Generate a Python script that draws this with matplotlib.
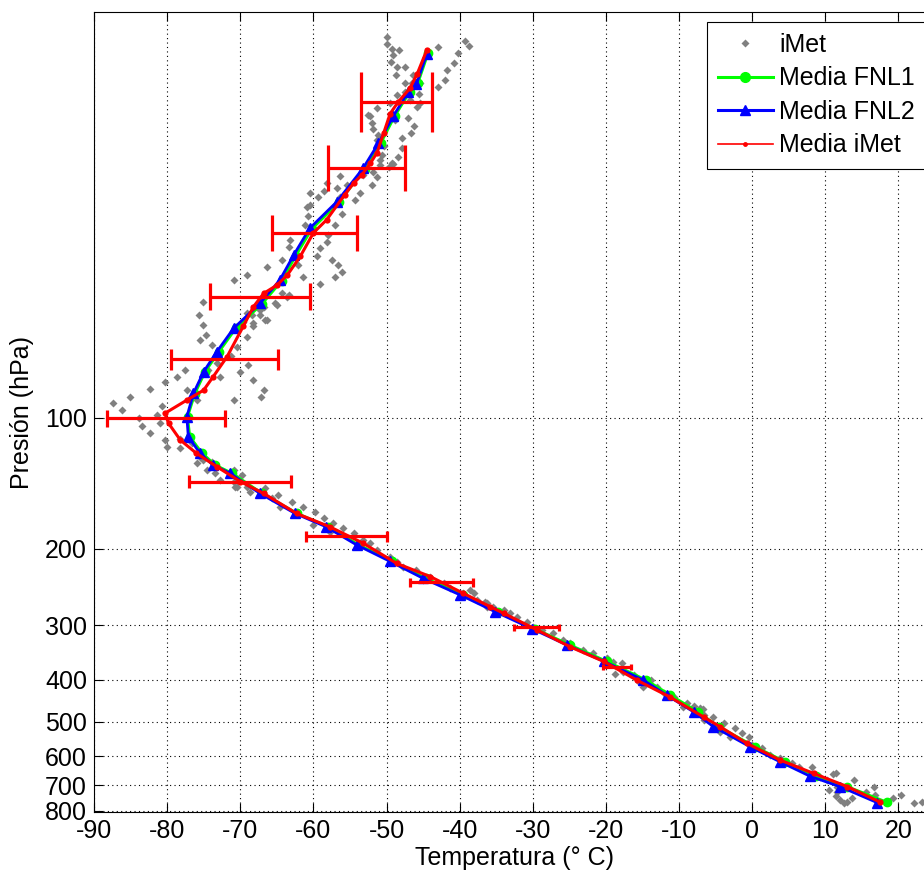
import numpy as np
import matplotlib
matplotlib.use('Agg')
from matplotlib import pyplot as plt
from matplotlib.lines import Line2D

plt.rcParams['font.family'] = ['Liberation Sans', 'DejaVu Sans']
plt.rcParams['axes.unicode_minus'] = False

# iMet soundings (grey diamonds): temperature (C) and pressure (hPa)
imet_t = [-50.0, -49.9, -49.3, -48.3, -49.1, -49.4, -48.6, -47.5, -48.7, -46.4, -47.5, -46.5, -45.4, -47.5,
          -48.6, -49.5, -46.8, -45.8, -51.3, -52.3, -52.0, -48.8, -47.1, -51.8, -51.1, -46.3, -46.7, -50.4,
          -47.9, -48.4, -50.9, -42.9, -39.25, -38.7, -40.2, -40.75, -41.7, -42.0, -42.9, -56.35, -49.7, -51.8,
          -45.6, -45.4, -49.3, -47.9, -50.6, -52.5, -51.3,
          -58.2, -59.3, -60.45, -60.7, -61.1, -56.8, -56.35, -55.4, -53.6, -54.3, -52.0, -53.2, -50.9, -49.1,
          -51.3, -56.1, -57.0, -57.95, -58.2, -59.1, -59.5, -57.5, -56.6, -56.1, -57.0, -62.05, -63.2,
          -63.4, -64.3, -66.4, -69.1, -70.9, -61.4, -63.6, -65.2, -66.8, -67.3, -66.6, -68.2, -68.4, -64.3,
          -60.9, -60.45, -58.6, -63.4, -59.1,
          -75.05, -75.7, -75.05, -74.7, -75.5, -73.9, -73.2, -74.4, -77.55, -78.7, -80.3, -82.3, -85.1, -87.4,
          -86.1, -83.9, -81.4, -81.0, -83.5, -82.3, -80.3, -80.05, -78.2, -77.3, -75.95, -80.7, -72.8, -70.9,
          -67.1, -66.8, -68.2, -70.0, -68.9, -71.2, -70.5, -69.1, -68.2, -66.4, -65.0, -67.3, -69.1, -69.6,
          -75.5, -75.05, -75.95, -73.9, -74.6, -73.45, -72.8, -70.9, -70.5, -69.1, -68.7, -76.6, -78.2,
          -70.9, -69.8, -70.7, -66.6, -65.7, -64.8, -62.95, -61.4, -59.8, -58.6, -57.3, -55.9, -54.5, -53.2,
          -52.2, -64.6, -60.0, -57.7, -51.3, -49.5, -48.6, -47.7, -45.9, -44.0, -42.2, -41.3, -39.5, -37.65,
          -36.5, -36.3, -38.6, -44.95,
          -38.1, -36.3, -35.4, -34.0, -32.2, -30.8, -28.8, -27.2, -25.8, -24.9, -23.1, -21.7, -19.9, -19.0,
          -17.8, -18.7, -17.6, -16.2, -15.5, -13.9, -13.0, -12.1, -10.75, -8.9, -7.1, -6.65, -5.3, -4.8,
          -33.1, -29.9, -14.9,
          -9.4, -8.0, -6.7, -6.65, -3.9, -4.4, -2.3, -1.4, -3.0, -0.5, 0.0, 1.3, 2.5, 3.8, 5.4, 6.35, 8.2,
          8.4, 9.3, 10.2, 11.1, 11.6, 10.45, 11.4, 12.5, 13.0, 13.65, 13.9, 15.5, 16.6, 16.8, 19.3, 20.3,
          22.1, 23.2, -7.55, 12.05, 11.6, 11.4]
imet_p = [13.3, 13.8, 14.2, 14.3, 14.7, 15.2, 15.6, 15.6, 16.3, 16.3, 17.0, 17.0, 17.0, 17.8,
          18.1, 18.9, 18.6, 19.3, 19.4, 20.3, 21.0, 20.7, 20.5, 21.7, 22.4, 21.3, 22.2, 23.7,
          22.7, 25.1, 25.5, 14.05, 13.6, 14.0, 14.5, 15.3, 15.9, 16.7, 17.4, 27.8, 26.5, 27.2,
          18.0, 18.9, 26.0, 24.0, 24.9, 20.1, 23.0,
          28.9, 31.1, 32.5, 34.4, 36.0, 29.7, 31.1, 29.2, 30.5, 31.6, 29.2, 27.7, 26.2, 26.1,
          27.9, 34.1, 36.0, 38.0, 39.4, 40.8, 42.4, 43.4, 44.6, 46.2, 47.4, 44.6, 39.0,
          40.5, 43.4, 45.0, 47.0, 48.3, 47.4, 52.7, 54.6, 55.6, 58.1, 59.6, 60.6, 58.1, 51.8,
          32.8, 30.5, 30.2, 52.3, 49.3,
          54.2, 58.1, 61.2, 64.6, 66.3, 68.1, 75.0, 77.7, 77.7, 80.5, 82.7, 86.0, 89.5, 92.3,
          96.0, 100.3, 98.6, 103.0, 104.5, 108.6, 112.5, 116.6, 117.6, 86.4, 91.1, 94.0, 80.5, 91.1,
          89.5, 86.4, 81.9, 78.4, 75.7, 72.1, 68.8, 65.1, 61.7, 59.6, 55.1, 56.5, 57.6, 60.1,
          122.9, 125.1, 127.3, 126.2, 131.9, 134.2, 139.1, 140.3, 144.1, 144.1, 148.0, 114.5, 112.1,
          131.9, 135.4, 144.1, 145.3, 153.2, 150.5, 156.0, 160.2, 164.5, 170.3, 174.9, 179.6, 184.3, 191.1,
          194.4, 160.2, 176.5, 182.8, 201.4, 208.7, 214.3, 220.0, 223.9, 232.0, 240.3, 246.7, 253.3, 262.5,
          264.9, 271.9, 248.9, 236.1,
          253.3, 267.1, 271.9, 276.7, 286.7, 294.4, 307.6, 313.1, 324.3, 330.0, 342.0, 348.0, 357.4, 363.9,
          367.0, 388.4, 383.7, 390.4, 404.5, 400.9, 415.3, 430.1, 437.9, 453.5, 465.6, 482.4, 486.8, 513.3,
          281.6, 302.3, 415.3,
          461.7, 460.0, 468.0, 495.4, 504.2, 527.0, 517.6, 531.5, 541.1, 541.1, 565.5, 575.4, 596.3, 606.8,
          623.1, 636.5, 636.5, 663.0, 669.0, 680.8, 659.5, 705.3, 717.7, 740.9, 767.7, 766.0, 749.9, 680.8,
          724.2, 705.3, 737.0, 749.9, 737.0, 767.7, 763.6, 478.1, 756.8, 724.2, 657.1]

# mean profiles
fnl1_t = [-44.3, -45.7, -46.8, -48.9, -50.8, -53.0, -56.5, -60.2, -62.4, -64.3, -67.0, -70.6, -72.9, -74.8,
          -76.2, -77.2, -76.9, -75.2, -73.4, -71.1, -67.0, -62.2, -58.0, -53.8, -49.2, -44.6, -39.6, -34.7,
          -29.7, -24.9, -19.9, -14.5, -11.2, -7.4, -4.6, 0.4, 4.5, 8.7, 13.0, 18.4]
fnl1_p = [14.5, 17.0, 17.8, 20.3, 23.4, 26.8, 32.0, 36.8, 42.4, 48.4, 54.7, 62.3, 70.5, 78.4,
          88.0, 99.5, 110.6, 120.7, 128.5, 134.2, 149.3, 166.0, 178.0, 196.0, 214.0, 234.0, 255.6, 279.4,
          305.6, 333.1, 363.0, 400.9, 434.0, 474.6, 513.0, 570.5, 617.8, 666.8, 704.6, 765.0]

fnl2_t = [-44.5, -45.9, -47.0, -49.1, -51.1, -53.2, -56.8, -60.5, -62.7, -64.6, -67.3, -70.9, -73.2, -75.0,
          -76.4, -77.3, -77.1, -75.5, -73.7, -71.4, -67.3, -62.5, -58.3, -54.1, -49.5, -45.0, -39.9, -35.1,
          -30.1, -25.3, -20.3, -14.9, -11.7, -8.0, -5.3, -0.3, 3.8, 7.9, 12.0, 17.1]
fnl2_p = [14.6, 17.1, 17.8, 20.3, 23.4, 26.7, 31.9, 36.7, 42.3, 48.3, 54.6, 62.3, 70.5, 78.4,
          87.9, 99.5, 110.6, 120.7, 128.5, 134.2, 149.3, 166.0, 178.0, 196.0, 214.0, 234.0, 255.6, 279.4,
          305.6, 333.1, 363.0, 400.9, 434.0, 474.6, 513.0, 570.5, 617.8, 666.8, 704.6, 767.0]

mean_t = [-44.5, -45.8, -46.8, -48.4, -49.5, -50.4, -51.3, -52.2, -53.4, -54.5, -55.7, -58.2, -60.0, -61.8,
          -63.6, -65.0, -66.8, -68.2, -69.6, -71.8, -73.7, -75.0, -77.3, -80.3, -79.8, -78.2, -76.0, -73.2,
          -70.0, -66.8, -62.3, -57.7, -53.2, -48.6, -44.0, -39.5, -35.8, -34.0, -29.4, -24.9, -20.3, -15.8,
          -11.2, -6.6, -4.4, -0.7, 3.8, 8.4, 13.0, 17.5]
mean_p = [14.3, 16.2, 17.5, 18.8, 20.0, 22.2, 24.6, 26.0, 27.7, 28.9, 30.7, 35.1, 37.6, 42.6,
          47.1, 49.6, 51.8, 55.6, 61.7, 72.4, 80.5, 86.4, 91.1, 97.7, 103.0, 112.5, 120.7, 129.6,
          140.2, 149.3, 166.0, 178.3, 194.3, 216.2, 231.9, 253.3, 272.0, 281.4, 307.6, 336.2, 363.3, 400.9,
          438.9, 487.9, 513.0, 560.7, 612.2, 657.0, 704.6, 765.0]

# standard deviation bars of the iMet mean
err_t = [-48.65, -52.7, -59.85, -67.3, -72.15, -80.15, -70.0, -55.5, -42.5, -29.45, -18.5]
err_p = [18.8, 26.7, 37.6, 52.7, 73.4, 100.3, 140.2, 187.5, 239.0, 303.0, 374.0]
err_w = [4.85, 5.25, 5.85, 6.8, 7.35, 8.05, 6.95, 5.5, 4.3, 3.05, 1.9]

y_ticks = [100, 200, 300, 400, 500, 600, 700, 800]
x_ticks = list(range(-90, 30, 10))

fig = plt.figure(figsize=(9.24, 8.75), dpi=100)
ax = fig.add_axes([0.1017, 0.072, 0.9102, 0.9139])

ax.plot(imet_t, imet_p, 'D', color='gray', ms=4.5, mec='none', zorder=2)
ax.plot(fnl1_t, fnl1_p, '-o', color='#00ff00', lw=2, ms=6, mec='#00ff00', zorder=3)
ax.plot(fnl2_t, fnl2_p, '-^', color='blue', lw=2, ms=7.5, mec='blue', zorder=4)
ax.plot(mean_t, mean_p, '-o', color='red', lw=2.2, ms=4.5, mec='none', zorder=5)

# horizontal error bars with caps that shrink downwards like the original
et = np.array(err_t)
ep = np.array(err_p)
ew = np.array(err_w)
ax.hlines(ep, et - ew, et + ew, color='red', lw=2.3, zorder=6)
half = 0.069 * (ep / ep[0]) ** -0.77
for side in (-1, 1):
    ax.vlines(et + side * ew, ep / 10 ** half, ep * 10 ** half, color='red', lw=2.3, zorder=6)

ax.set_yscale('log')
ax.set_xlim(-90, 25)
ax.set_ylim(806, 11.7)
ax.set_yticks(y_ticks)
ax.set_yticklabels([str(v) for v in y_ticks])
ax.yaxis.set_minor_locator(matplotlib.ticker.NullLocator())
ax.set_xticks(x_ticks)
ax.tick_params(axis='both', which='major', direction='in', length=6.5, width=0.8,
               labelsize=18, top=True, right=True)
ax.tick_params(axis='x', pad=5)
ax.tick_params(axis='y', pad=5)
ax.grid(True, color='black', linestyle=(0, (1, 3)), linewidth=0.8)
for s in ax.spines.values():
    s.set_linewidth(0.8)

ax.set_xlabel('Temperatura (° C)', fontsize=18, labelpad=2)
ax.set_ylabel('Presión (hPa)', fontsize=18, labelpad=8)

handles = [
    Line2D([], [], linestyle='none', marker='D', color='gray', ms=4.5, mec='none'),
    Line2D([], [], color='#00ff00', lw=2.2, marker='o', ms=7, mec='#00ff00'),
    Line2D([], [], color='blue', lw=2.2, marker='^', ms=7.5, mec='blue'),
    Line2D([], [], color='red', lw=1.2, marker='o', ms=3.5, mec='none'),
]
labels = ['iMet', 'Media FNL1', 'Media FNL2', 'Media iMet']
leg = ax.legend(handles, labels, loc='upper left', bbox_to_anchor=(706.7 / 924, 1 - 21.7 / 875),
                bbox_transform=fig.transFigure, borderaxespad=0, fontsize=18, fancybox=False,
                framealpha=1, edgecolor='black', handlelength=2.2, handletextpad=0.25,
                borderpad=0.45, labelspacing=0.38)
leg.get_frame().set_linewidth(0.8)

fig.savefig('out.png', dpi=100)
